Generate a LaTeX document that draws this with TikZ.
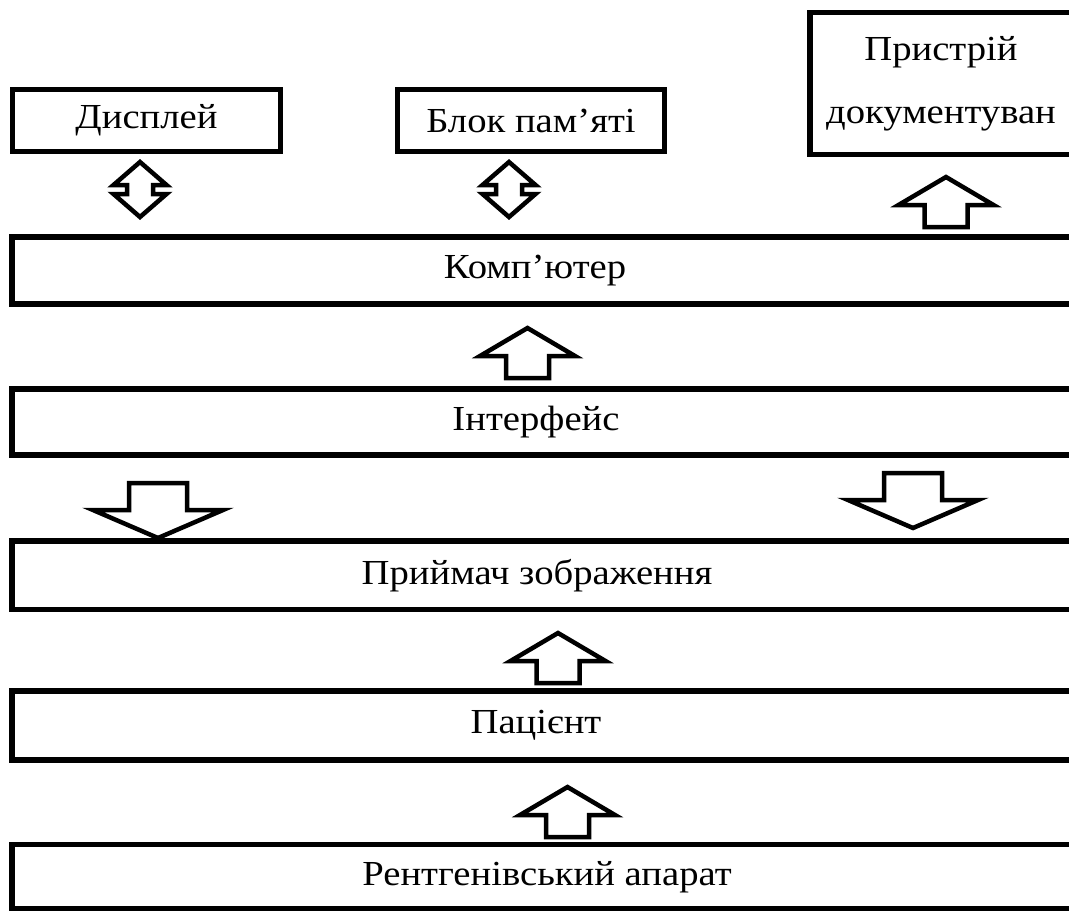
\documentclass[tikz,border=0pt]{standalone}
\usepackage{fontspec}
\setmainfont{Liberation Serif}[FakeStretch=1.1]
\usetikzlibrary{positioning}
\tikzset{
  boxline/.style={line width=3.9pt},
  box/.style={draw, boxline, minimum height=1.55cm, inner sep=0pt, font=\rmfamily\fontsize{25}{30}\selectfont},
  lbl/.style={font=\rmfamily\fontsize{25}{30}\selectfont},
  arrline/.style={line width=3.2pt, line join=miter, fill=white},
  uparr/.pic={\draw[arrline] (-21.5,0) -- (-21.5,-22) -- (-47.5,-22) -- (0,-50) -- (47.5,-22) -- (21.5,-22) -- (21.5,0) -- cycle;},
  downarr/.pic={\draw[arrline] (0,0) -- (-65,-28) -- (-29,-28) -- (-29,-55) -- (29,-55) -- (29,-28) -- (65,-28) -- cycle;},
  bothwayarr/.pic={\draw[arrline] (0,-27.5) -- (26.5,-4.5) -- (13,-4.5) -- (13,4.5) -- (26.5,4.5) -- (0,27.5) -- (-26.5,4.5) -- (-13,4.5) -- (-13,-4.5) -- (-26.5,-4.5) -- cycle;}
}
\begin{document}
\begin{tikzpicture}[x=0.025cm, y=-0.025cm]
        \clip (0,0) rectangle (1069,910);
        \fill[white] (0,0) rectangle (1069,910);
        \node[box, minimum width=6.7cm] (displ) at (146.5,120.5) {Дисплей};
        \node[box, minimum width=6.675cm] (pamyat) at (531,120.5) {Блок пам’яті};
        \node[box, minimum width=6.54cm, minimum height=3.55cm, align=center, font=\rmfamily\fontsize{25}{44.6}\selectfont] (pryst) at (941,83.5) {Пристрій\\документуван};
        \foreach \t/\b/\xt/\nm/\txt in {237/304/535/komp/Комп’ютер, 389/455/536/interf/Інтерфейс, 541/609.5/537/pryimach/Приймач зображення, 691/760/536/patsient/Пацієнт, 844.5/909/547/rentgen/Рентгенівський апарат}
          {\draw[boxline] (12,\t) rectangle (1100,\b);
           \node[lbl] (\nm) at (\xt,{(\t+\b)/2}) {\txt};}
        \pic at (140,189.5) {bothwayarr};
        \pic at (509,189.5) {bothwayarr};
        \pic at (946,227) {uparr};
        \pic at (527.5,378) {uparr};
        \pic at (158,538) {downarr};
        \pic at (913,528) {downarr};
        \pic at (558,683) {uparr};
        \pic at (567.5,837) {uparr};
      \end{tikzpicture}
\end{document}
